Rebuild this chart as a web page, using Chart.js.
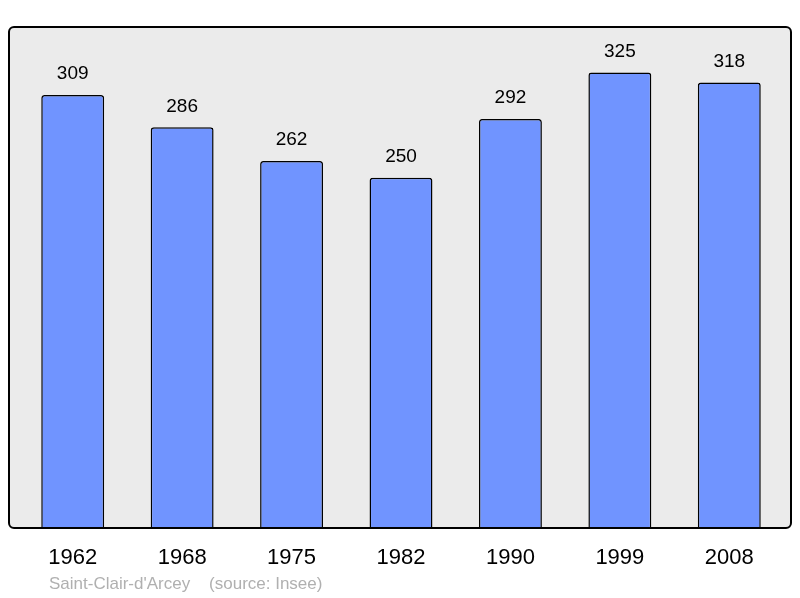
<!DOCTYPE html>
<html>
<head>
<meta charset="utf-8">
<script src="https://cdn.jsdelivr.net/npm/chart.js@4/dist/chart.umd.min.js"></script>
<style>
  html, body { margin: 0; padding: 0; background: #fff; }
  #wrap { width: 800px; height: 598px; position: relative; }
</style>
</head>
<body>
<div id="wrap"><canvas id="pop-chart"></canvas></div>
<script>
// Population bar chart — values per census year, labels drawn above bars.
const years = ['1962', '1968', '1975', '1982', '1990', '1999', '2008'];
const population = [309, 286, 262, 250, 292, 325, 318];
const footerText = "Saint-Clair-d'Arcey    (source: Insee)";

const FONT = '"Liberation Sans", Arial, sans-serif';

// grey panel with rounded black frame behind the bars
const framePlugin = {
    id: 'frame',
    beforeDraw(chart) {
        const ctx = chart.ctx;
        ctx.save();
        ctx.beginPath();
        ctx.roundRect(9, 27, 782, 501, 5);
        ctx.fillStyle = '#ebebeb';
        ctx.fill();
        ctx.restore();
    },
    afterDatasetsDraw(chart) {
        const ctx = chart.ctx;
        ctx.save();
        ctx.beginPath();
        ctx.roundRect(9, 27, 782, 501, 5);
        ctx.lineWidth = 2;
        ctx.strokeStyle = '#000';
        ctx.stroke();
        ctx.restore();
    },
};

// numbers above each bar + source line at the bottom
const labelsPlugin = {
    id: 'valueLabels',
    afterDraw(chart) {
        const ctx = chart.ctx;
        const meta = chart.getDatasetMeta(0);
        ctx.save();
        ctx.font = '19px ' + FONT;
        ctx.fillStyle = '#000';
        ctx.textAlign = 'center';
        ctx.textBaseline = 'middle';
        meta.data.forEach((bar, i) => {
            ctx.fillText(String(population[i]), bar.x, bar.y - 21);
        });
        ctx.font = '17px ' + FONT;
        ctx.fillStyle = '#b0b0b0';
        ctx.textAlign = 'left';
        ctx.fillText(footerText, 49, 584);
        ctx.restore();
    },
};

new Chart(document.getElementById('pop-chart'), {
    type: 'bar',
    data: {
        labels: years,
        datasets: [{
            data: population,
            backgroundColor: '#7094ff',
            borderColor: '#000',
            borderWidth: 1.5,
            borderRadius: 3,
            borderSkipped: 'bottom',
            categoryPercentage: 1,
            barPercentage: 0.575,
        }],
    },
    options: {
        responsive: true,
        maintainAspectRatio: false,
        animation: false,
        layout: { padding: { left: 18, right: 16, top: 27, bottom: 19 } },
        plugins: {
            legend: { display: false },
            tooltip: { enabled: false },
        },
        scales: {
            x: {
                grid: { display: false },
                border: { display: false },
                ticks: { color: '#000', font: { family: FONT, size: 22 }, padding: 8 },
            },
            y: {
                display: false,
                min: 0,
                max: 357.5,
            },
        },
    },
    plugins: [framePlugin, labelsPlugin],
});
</script>
</body>
</html>
